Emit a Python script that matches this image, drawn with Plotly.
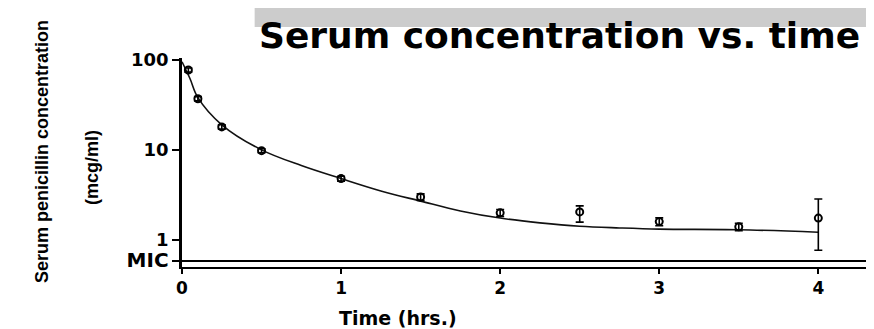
import plotly.graph_objects as go

# Observed mean serum concentrations (mcg/ml) with error bars
t_obs = [0.04, 0.1, 0.25, 0.5, 1.0, 1.5, 2.0, 2.5, 3.0, 3.5, 4.0]
c_obs = [77, 37, 18, 9.8, 4.8, 3.0, 2.0, 2.05, 1.6, 1.4, 1.75]
err_up = [4, 2, 1, 0.5, 0.3, 0.25, 0.18, 0.34, 0.16, 0.13, 1.1]
err_dn = [4, 2, 1, 0.5, 0.3, 0.25, 0.18, 0.47, 0.16, 0.13, 0.98]

# Fitted curve
t_fit = [0, 0.05, 0.1, 0.25, 0.5, 0.75, 1.0, 1.25, 1.5, 1.75, 2.0, 2.25, 2.5, 2.75, 3.0, 3.5, 4.0]
c_fit = [95, 62, 38, 19, 10, 6.7, 4.8, 3.5, 2.7, 2.1, 1.75, 1.55, 1.42, 1.36, 1.32, 1.3, 1.22]

mic_value = 0.585
y_tick_vals = [1, 10, 100, mic_value]
y_tick_text = ["<b>1</b>", "<b>10</b>", "<b>100</b>", "<span style='font-size:20px'><b>MIC</b></span>"]
x_tick_vals = [0, 1, 2, 3, 4]
x_tick_text = ["<b>0</b>", "<b>1</b>", "<b>2</b>", "<b>3</b>", "<b>4</b>"]

FONT = "DejaVu Sans"

fig = go.Figure()

fig.add_trace(go.Scatter(
    x=[0, 4.4], y=[mic_value, mic_value], mode="lines",
    line=dict(color="black", width=2), hoverinfo="skip", showlegend=False))

fig.add_trace(go.Scatter(
    x=t_fit, y=c_fit, mode="lines", line=dict(color="#111", width=1.6),
    line_shape="spline", showlegend=False))

fig.add_trace(go.Scatter(
    x=t_obs, y=c_obs, mode="markers",
    marker=dict(symbol="circle-open", size=7, color="black", line=dict(width=2)),
    error_y=dict(type="data", symmetric=False, array=err_up, arrayminus=err_dn,
                 color="black", thickness=1.6, width=4),
    showlegend=False))

fig.update_xaxes(
    range=[0, 4.35], tickvals=x_tick_vals, ticktext=x_tick_text, automargin=False,
    showline=True, linecolor="black", linewidth=2, ticks="outside", ticklen=5,
    tickcolor="black", tickwidth=1.5, showgrid=False, zeroline=False,
    tickfont=dict(family=FONT, size=17, color="black"))

fig.update_yaxes(
    type="log", range=[-0.3, 2.02], tickvals=y_tick_vals, ticktext=y_tick_text,
    automargin=False,
    showline=True, linecolor="black", linewidth=2.5, ticks="outside", ticklen=7,
    tickcolor="black", tickwidth=1.5, showgrid=False, zeroline=False,
    tickfont=dict(family=FONT, size=18, color="black"))

# Grey scan band above the title
fig.add_shape(type="rect", xref="paper", yref="paper", x0=0.105, x1=0.995,
              y0=1.148, y1=1.254, fillcolor="#cccccc", line=dict(width=0), layer="below")

fig.add_annotation(
    text="<b>Serum concentration vs. time</b>", xref="paper", yref="paper",
    x=(862 - 182) / 692, y=1.11, xanchor="right", yanchor="middle", showarrow=False,
    font=dict(family=FONT, size=36, color="black"))

fig.add_annotation(
    text="<b>Time (hrs.)</b>", xref="paper", yref="paper",
    x=(398 - 182) / 692, y=-(318 - 267) / 209, xanchor="center", yanchor="middle",
    showarrow=False, font=dict(family=FONT, size=19, color="black"))

fig.add_annotation(
    text="<b>Serum penicillin concentration</b>", xref="paper", yref="paper",
    x=(42 - 182) / 692, y=(267 - 152) / 209, xanchor="center", yanchor="middle",
    textangle=-90, showarrow=False,
    font=dict(family="Liberation Sans", size=18, color="black"))

fig.add_annotation(
    text="<b>(mcg/ml)</b>", xref="paper", yref="paper",
    x=(92 - 182) / 692, y=(267 - 168) / 209, xanchor="center", yanchor="middle",
    textangle=-90, showarrow=False,
    font=dict(family="Liberation Sans", size=18, color="black"))

# The page adds an 8 px body margin, so the figure is 8 px smaller and
# its margins are offset by 8 px to keep the plot where the reference has it.
fig.update_layout(
    width=866, height=321, margin=dict(l=174, r=0, t=50, b=62),
    plot_bgcolor="white", paper_bgcolor="white", showlegend=False)

fig.write_html("out.html")
